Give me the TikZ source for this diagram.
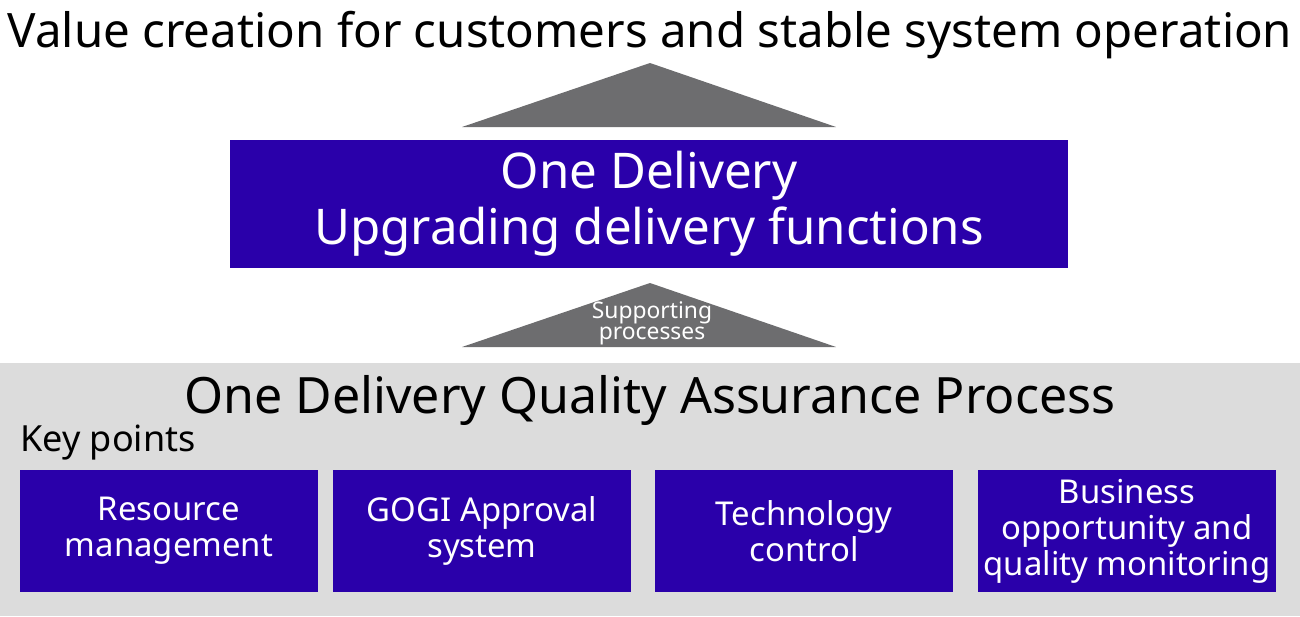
\documentclass[tikz,border=0pt]{standalone}
\usepackage{fontspec}
\setmainfont{Noto Sans}
\usetikzlibrary{positioning}
\definecolor{odblue}{HTML}{2A00AA}
\definecolor{odgray}{HTML}{6D6D6F}
\definecolor{bggray}{HTML}{DCDCDC}
\tikzset{
  keybox/.style={fill=odblue, text=white, minimum width=5.97cm, minimum height=2.44cm, align=center, inner sep=0pt, font=\fontsize{18.7}{20.5}\selectfont},
  uptri/.style={fill=odgray}
}
\begin{document}
\begin{tikzpicture}[x=0.02cm,y=-0.02cm]
\useasboundingbox (0,0) rectangle (1300,616);
\fill[bggray] (0,363) rectangle (1300,616);
\node[font=\fontsize{27}{30}\selectfont] (goal) at (650,35) {Value creation for customers and stable system operation};
\fill[uptri] (462,127) -- (650,63) -- (836,127) -- cycle;
\node[fill=odblue, text=white, minimum width=16.76cm, minimum height=2.56cm, align=center, font=\fontsize{28}{32}\selectfont] (od) at (649,204) {One Delivery\\Upgrading delivery functions};
\fill[uptri] (462,347) -- (650,283) -- (836,347) -- cycle;
\node[text=white, align=center, font=\fontsize{13}{12}\selectfont] (sup) at (652,323) {Supporting\\processes};
\node[font=\fontsize{28.5}{32}\selectfont] (qa) at (650,400) {One Delivery Quality Assurance Process};
\node[anchor=west, font=\fontsize{20.5}{24}\selectfont, inner sep=0pt] (kp) at (20,443) {Key points};
% key points
\node[keybox] (res) at (169,531) {Resource\\management};
\node[keybox] (gogi) at (482,531) {GOGI Approval\\system};
\node[keybox] (tech) at (804,531) {Technology\\control};
\node[keybox] (biz) at (1127,531) {Business\\opportunity and\\quality monitoring};
\end{tikzpicture}
\end{document}
